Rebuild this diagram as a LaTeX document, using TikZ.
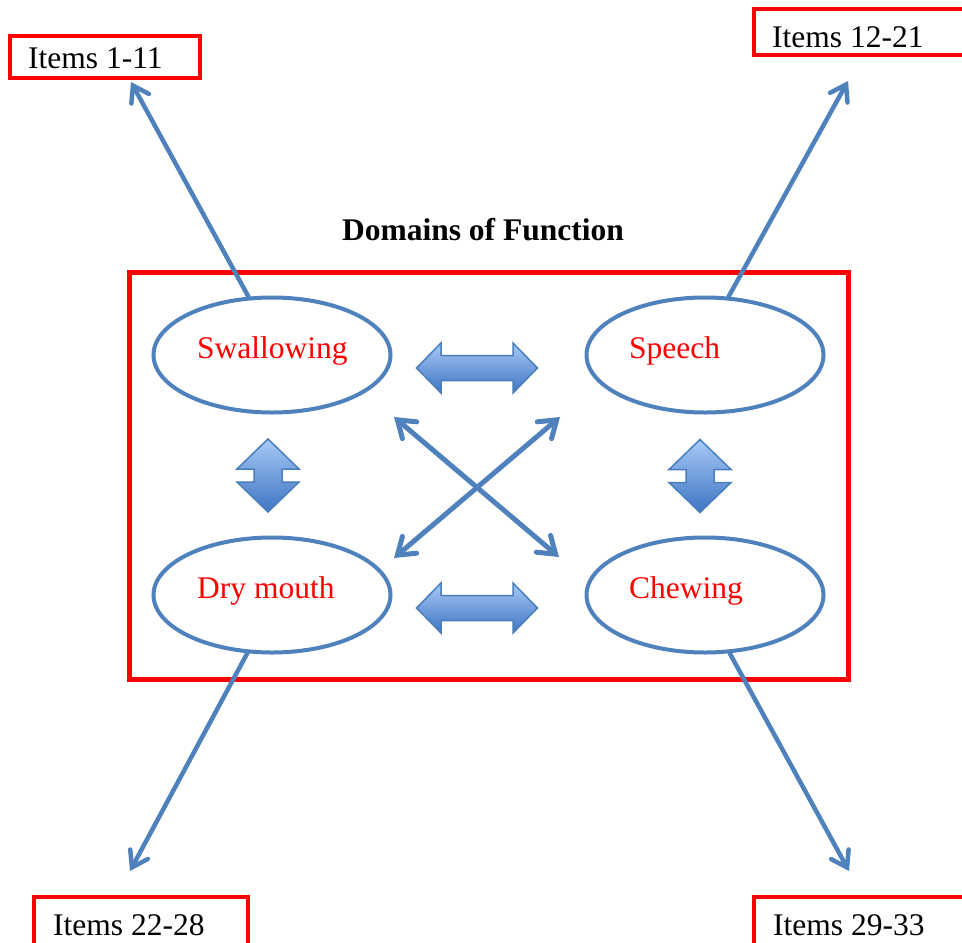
\documentclass[tikz,border=0pt]{standalone}
\usepackage{fontspec}
\setmainfont{Liberation Serif}
\usetikzlibrary{arrows.meta,shapes.geometric}
\definecolor{lineblue}{HTML}{4F81BD}
\definecolor{boxred}{HTML}{FF0000}
\definecolor{shadetop}{HTML}{A6C9F7}
\definecolor{shadebot}{HTML}{3F75C2}
\definecolor{arrowedge}{HTML}{4A7EBB}
\tikzset{
  bigfont/.style={font=\fontsize{31.5}{36}\selectfont},
  domnode/.style={ellipse, draw=lineblue, line width=4pt, minimum width=237pt, minimum height=115pt, inner sep=0pt},
  domlabel/.style={bigfont, text=boxred, inner sep=0pt, anchor=base west},
  itemlabel/.style={bigfont, text=black, inner sep=0pt, anchor=base west},
  itembox/.style={draw=boxred, line width=4pt},
  mainframe/.style={draw=boxred, line width=5pt},
  linkarrow/.style={draw=lineblue, line width=4.5pt, line cap=round, -{Straight Barb[length=15pt,width=20pt,line cap=round]}},
  crossarrow/.style={draw=lineblue, line width=5pt, line cap=round, {Straight Barb[length=16pt,width=22pt,line cap=round]}-{Straight Barb[length=16pt,width=22pt,line cap=round]}},
  blockarrow/.style={draw=arrowedge, line width=1.5pt, top color=shadetop, bottom color=shadebot, line join=miter},
  hdouble/.pic={\path[blockarrow] (-60.5,0) -- (-36,-25) -- (-36,-12.5) -- (36,-12.5) -- (36,-25) -- (60.5,0) -- (36,25) -- (36,12.5) -- (-36,12.5) -- (-36,25) -- cycle;},
  vdouble/.pic={\path[blockarrow] (0,-36.5) -- (31,-6.5) -- (14,-6.5) -- (14,6.5) -- (31,6.5) -- (0,36.5) -- (-31,6.5) -- (-14,6.5) -- (-14,-6.5) -- (-31,-6.5) -- cycle;}
}
\begin{document}
\begin{tikzpicture}[x=1pt,y=-1pt]
\useasboundingbox (0,0) rectangle (962,943);
\clip (0,0) rectangle (962,943);

% title
\node[inner sep=0pt, anchor=base, font=\fontsize{31.5}{36}\selectfont\bfseries] (title) at (483,240) {Domains of Function};

% main frame
\draw[mainframe] (129,272) rectangle (848,679);

% domains
\node[domnode] (sw) at (272,355) {};
\node[domnode] (sp) at (705,355) {};
\node[domnode] (dm) at (272,595) {};
\node[domnode] (ch) at (705,595) {};
\node[domlabel] (swl) at (197,358) {Swallowing};
\node[domlabel] (spl) at (629,358) {Speech};
\node[domlabel] (dml) at (197,598) {Dry mouth};
\node[domlabel] (chl) at (629,598) {Chewing};

% item boxes
\draw[itembox] (9.5,36) rectangle (199.5,78);
\draw[itembox] (754,9) rectangle (1000,55);
\draw[itembox] (34,897) rectangle (248,960);
\draw[itembox] (754,897) rectangle (1000,960);
\node[itemlabel] (i1) at (28,68) {Items 1-11};
\node[itemlabel] (i2) at (772,47) {Items 12-21};
\node[itemlabel] (i3) at (53,935) {Items 22-28};
\node[itemlabel] (i4) at (773,935) {Items 29-33};

% connector ends
\coordinate (t1) at (131,82);
\coordinate (t2) at (848,81);
\coordinate (t3) at (130,871);
\coordinate (t4) at (849,871);
\draw[linkarrow] (sw.112) -- (t1);
\draw[linkarrow] (sp.68) -- (t2);
\draw[linkarrow] (dm.247.5) -- (t3);
\draw[linkarrow] (ch.293) -- (t4);

% cross arrows
\coordinate (c1) at (394,417);
\coordinate (c2) at (559,557);
\coordinate (c3) at (560,417);
\coordinate (c4) at (394,558);
\draw[crossarrow] (c1) -- (c2);
\draw[crossarrow] (c3) -- (c4);

% block arrows
\pic at (477,368) {hdouble};
\pic at (477,608) {hdouble};
\pic at (268,475.5) {vdouble};
\pic at (700,476) {vdouble};
\end{tikzpicture}
\end{document}
